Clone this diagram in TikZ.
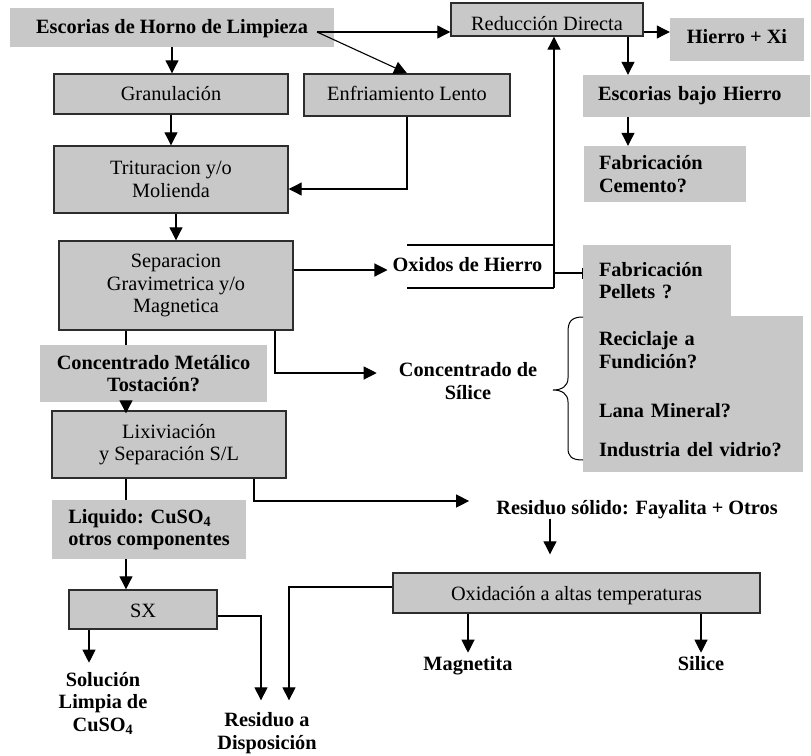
\documentclass[tikz,border=0pt]{standalone}
\usepackage{fontspec}
\setmainfont{Liberation Serif}
\usetikzlibrary{arrows.meta,calc}
\definecolor{boxgray}{RGB}{200,200,200}
\definecolor{edgegray}{RGB}{45,45,45}
\newcommand\chartfont{\fontsize{20.3}{22.5}\selectfont}
\begin{document}
\begin{tikzpicture}[x=1pt,y=-1pt,
  proc/.style={draw=edgegray, line width=1.4pt, fill=boxgray, inner sep=0pt, align=center, font=\chartfont},
  outcome/.style={fill=boxgray, inner sep=0pt, font=\chartfont\bfseries},
  lbl/.style={inner sep=0pt, align=center, font=\chartfont\bfseries},
  conn/.style={line width=1.1pt},
  arr/.style={conn, -{Triangle[length=13pt,width=13pt]}},
  bar/.style={conn, -{Bar[width=11pt,line width=1.1pt]}}]
\useasboundingbox (0,0) rectangle (811,755);

% --- process boxes (framed) ---
\node[proc, minimum width=234pt, minimum height=40pt, text height=14pt, text depth=2pt] (gran) at (171,94) {Granulación};
\node[proc, minimum width=206pt, minimum height=42pt, text height=14pt, text depth=4pt] (enfr) at (407,95) {Enfriamiento Lento};
\node[proc, minimum width=192pt, minimum height=33pt, text height=21pt, text depth=0pt] (red) at (547,19.5) {Reducción Directa};
\node[proc, minimum width=234pt, minimum height=67pt] (trit) at (171,179.5) {Trituracion y/o\\Molienda};
\node[proc, minimum width=234pt, minimum height=89pt] (sep) at (176,285.5) {Separacion\\Gravimetrica y/o\\Magnetica};
\node[proc, minimum width=234pt, minimum height=67pt] (lix) at (169,444.5) {Lixiviación\\y Separación S/L};
\node[proc, minimum width=148pt, minimum height=39pt, text height=15pt, text depth=0pt] (sx) at (143,609.5) {SX};
\node[proc, minimum width=367pt, minimum height=40pt, text height=14pt, text depth=0pt] (oxid) at (576.5,593) {Oxidación a altas temperaturas};

% --- product boxes (shaded, no frame) ---
\node[outcome, minimum width=324pt, minimum height=39pt, text height=14pt, text depth=3pt] (esc) at (172,27.5) {Escorias de Horno de Limpieza};
\node[outcome, minimum width=134pt, minimum height=43pt, text height=14pt, text depth=7pt] (hx) at (737,39.5) {Hierro + Xi};
\node[outcome, minimum height=42pt, inner xsep=15pt, text width=197pt, align=left, text height=14pt, text depth=6pt] (ebh) at (696.5,96) {Escorias bajo Hierro};
\node[outcome, minimum height=56pt, inner xsep=15pt, text width=132pt, align=left] (fcem) at (665,174) {Fabricación\\Cemento?};
\node[outcome, minimum height=71pt, inner xsep=16pt, text width=116pt, align=left] (pel) at (657,280.5) {Fabricación\\Pellets ?};
\node[outcome, minimum height=156pt, inner xsep=16pt, text width=188pt, align=left] (rec) at (693,394) {Reciclaje a\\Fundición?\\[27pt]Lana Mineral?\\[16pt]Industria del vidrio?};
\node[outcome, minimum width=227pt, minimum height=57pt, align=center] (cm) at (153.5,373.5) {Concentrado Metálico\\Tostación?};
\node[outcome, minimum width=194pt, minimum height=59pt, align=left] (liq) at (149,529.5) {Liquido: CuSO\textsubscript{4}\\otros componentes};

% --- free labels ---
\node[lbl, anchor=base] (oxh) at (467.5,271) {Oxidos de Hierro};
\node[lbl] (csil) at (468,381) {Concentrado de\\Sílice};
\node[lbl, anchor=base] (resol) at (637,514) {Residuo sólido: Fayalita + Otros};
\node[lbl, anchor=base] (magn) at (468,670) {Magnetita};
\node[lbl, anchor=base] (sil) at (701,670) {Silice};
\node[lbl] (sol) at (103,703) {Solución\\Limpia de\\CuSO\textsubscript{4}};
\node[lbl] (disp) at (267,733) {Residuo a\\Disposición};

% --- helper points for routing ---
\coordinate (escR) at (317,32);
\coordinate (xA) at (126,0);
\coordinate (xB) at (275,0);
\coordinate (xC) at (254,0);
\coordinate (xD) at (89,0);
\coordinate (xE) at (628,0);
\coordinate (xL) at (261,0);
\coordinate (xM) at (289,0);
\coordinate (xR) at (550,0);
\coordinate (yT) at (0,189);
\coordinate (yO) at (0,270);
\coordinate (yP) at (0,273);
\coordinate (yS) at (0,373);
\coordinate (yR) at (0,501);
\coordinate (yX) at (0,616);
\coordinate (yM) at (0,587);
\coordinate (brA) at (407,245);
\coordinate (brB) at (407,288);
\coordinate (brC) at (554,288);

% --- connectors ---
\draw[arr] (esc.south) -- (esc.south |- gran.north);
\draw[arr] (escR) -- (escR -| red.west);
\draw[arr] (escR) -- (enfr.north);
\draw[arr] (red.east |- escR) -- (hx.west |- escR);
\draw[arr] (red.south -| xE) -- (ebh.north -| xE);
\draw[arr] (ebh.south -| xE) -- (fcem.north -| xE);
\draw[arr] (gran.south) -- (trit.north);
\draw[arr] (enfr.south) |- (trit.east |- yT);
\draw[arr] (trit.south -| sep.north) -- (sep.north);
\draw[arr, shorten >=5pt] (sep.east |- yO) -- (oxh.west |- yO);

% iron oxides bracket
\draw[conn] (brA) -- (brA -| brC);
\draw[conn] (brB) -- (brC);
\draw[arr] (brC) -- (brC |- red.south);
\draw[bar] (brC |- yP) -- (pel.west |- yP);

\draw[arr, shorten >=22pt] (sep.south -| xB) |- (csil.west |- yS);
\draw[conn] (sep.south -| xA) -- (cm.north -| xA);
\draw[arr] (cm.south -| xA) -- ($(lix.north -| xA)+(0,3)$);
\draw[conn] (lix.south -| xA) -- (liq.north -| xA);
\draw[arr, shorten >=27pt] (lix.south -| xC) |- (resol.west |- yR);
\draw[arr] (resol.south -| xR) -- ($(oxid.north -| xR)+(0,-18)$);
\draw[arr] (liq.south -| xA) -- (sx.north -| xA);
\draw[arr] (sx.south -| xD) -- ($(sol.north -| xD)+(0,-9)$);
\draw[arr] (sx.east |- yX) -| ($(disp.north -| xL)+(0,-12)$);
\draw[arr] (oxid.west |- yM) -| ($(disp.north -| xM)+(0,-12)$);
\draw[arr] (oxid.south -| magn) -- ($(magn.north)+(0,-3)$);
\draw[arr] (oxid.south -| sil) -- ($(sil.north)+(0,-3)$);

% brace grouping the silica uses
\draw[line width=1pt] (583,317) .. controls (571,317) and (568,322) .. (568,332)
  -- (568,378) .. controls (568,386) and (562,390) .. (553,390)
  .. controls (562,390) and (568,394) .. (568,402)
  -- (568,448) .. controls (568,456) and (571,460) .. (583,460);
\end{tikzpicture}
\end{document}
